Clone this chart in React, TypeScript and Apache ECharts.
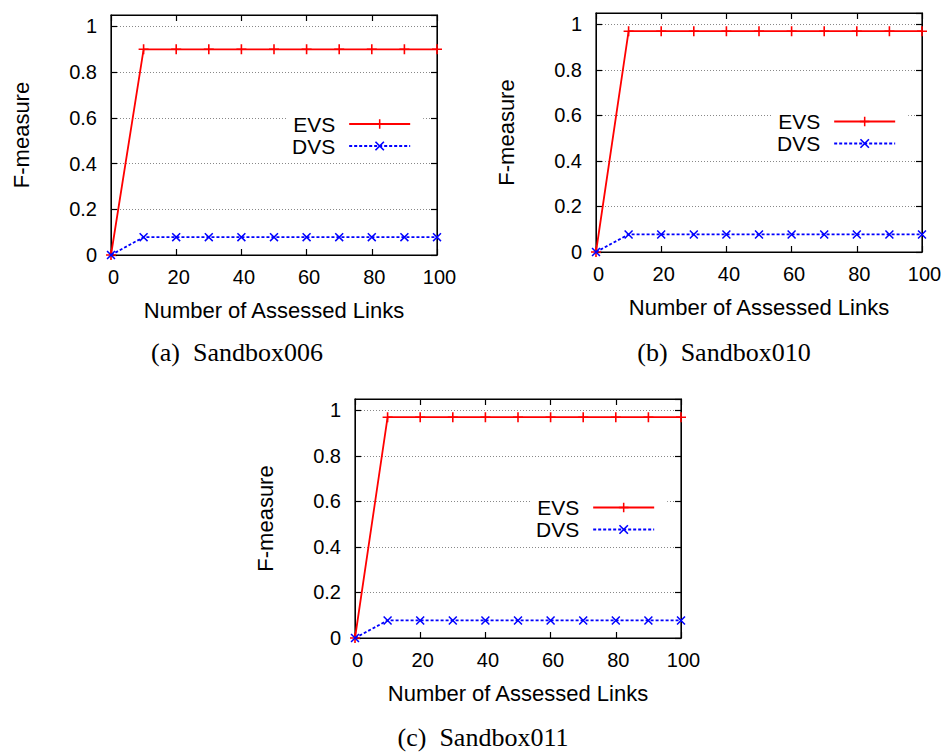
import React, { useEffect, useRef } from 'react';
import * as echarts from 'echarts';

// ---- data ----
const xValues = [0, 10, 20, 30, 40, 50, 60, 70, 80, 90, 100];
const evsSandbox006 = [0, 0.9, 0.9, 0.9, 0.9, 0.9, 0.9, 0.9, 0.9, 0.9, 0.9];
const dvsSandbox006 = [0, 0.078, 0.078, 0.078, 0.078, 0.078, 0.078, 0.078, 0.078, 0.078, 0.078];
const evsSandbox010 = [0, 0.97, 0.97, 0.97, 0.97, 0.97, 0.97, 0.97, 0.97, 0.97, 0.97];
const dvsSandbox010 = [0, 0.077, 0.077, 0.077, 0.077, 0.077, 0.077, 0.077, 0.077, 0.077, 0.077];
const evsSandbox011 = [0, 0.97, 0.97, 0.97, 0.97, 0.97, 0.97, 0.97, 0.97, 0.97, 0.97];
const dvsSandbox011 = [0, 0.077, 0.077, 0.077, 0.077, 0.077, 0.077, 0.077, 0.077, 0.077, 0.077];
const captions = ['(a)  Sandbox006', '(b)  Sandbox010', '(c)  Sandbox011'];
const seriesNames = ['EVS', 'DVS'];
const xAxisName = 'Number of Assessed Links';
const yAxisName = 'F-measure';

const panelData = [
  { evs: evsSandbox006, dvs: dvsSandbox006, caption: captions[0] },
  { evs: evsSandbox010, dvs: dvsSandbox010, caption: captions[1] },
  { evs: evsSandbox011, dvs: dvsSandbox011, caption: captions[2] },
];

// ---- layout ----
const layout = [
  { left: 111, top: 15, width: 326, height: 240, legendLeft: 288, legendTop: 109, capX: 237, capY: 352 },
  { left: 596, top: 13, width: 326, height: 239, legendLeft: 773, legendTop: 106.5, capX: 724, capY: 352 },
  { left: 355, top: 399, width: 326, height: 239, legendLeft: 532, legendTop: 492.5, capX: 483, capY: 737 },
];

const SANS = '"Liberation Sans", Arial, Helvetica, sans-serif';
const SERIF = '"Liberation Serif", "Times New Roman", serif';
const plusPath = 'path://M0,4.2H10V5.8H0Z M4.2,0H5.8V10H4.2Z';
const crossPath = 'path://M0,1.2L1.2,0L10,8.8L8.8,10Z M8.8,0L10,1.2L1.2,10L0,8.8Z';

export default function App() {
  const ref = useRef<HTMLDivElement>(null);
  useEffect(() => {
    if (!ref.current) return;
    const chart = echarts.init(ref.current, null, { renderer: 'svg' });

    const grid: any[] = [];
    const xAxis: any[] = [];
    const yAxis: any[] = [];
    const series: any[] = [];
    const legend: any[] = [];
    const graphic: any[] = [];

    const axisLine = () => ({ show: true, onZero: false, lineStyle: { color: '#000', width: 1 } });
    const axisTick = () => ({ show: true, inside: true, length: 6, lineStyle: { color: '#000', width: 1.2 } });
    const yFmt = (v: number) => {
      const k = v * 5;
      if (Math.abs(k - Math.round(k)) > 1e-6) return '';
      return String(Math.round(v * 10) / 10);
    };

    panelData.forEach((p, i) => {
      const L = layout[i];
      grid.push({
        left: L.left, top: L.top, width: L.width, height: L.height, containLabel: false,
        show: true, borderColor: '#000', borderWidth: 1.2, backgroundColor: 'transparent',
      });
      xAxis.push({
        type: 'value', gridIndex: i, min: 0, max: 100, interval: 20, position: 'bottom',
        axisLine: axisLine(), axisTick: axisTick(),
        axisLabel: { color: '#000', fontFamily: SANS, fontSize: 20, margin: 12, padding: [0, 0, 0, 5] },
        splitLine: { show: false },
        name: xAxisName, nameLocation: 'middle', nameGap: 44,
        nameTextStyle: { color: '#000', fontFamily: SANS, fontSize: 22 },
      });
      xAxis.push({
        type: 'value', gridIndex: i, min: 0, max: 100, interval: 20, position: 'top',
        axisLine: axisLine(), axisTick: axisTick(),
        axisLabel: { show: false }, splitLine: { show: false },
      });
      yAxis.push({
        type: 'value', gridIndex: i, min: 0, max: 1.05, interval: 0.2, position: 'left',
        axisLine: axisLine(), axisTick: axisTick(),
        axisLabel: { color: '#000', fontFamily: SANS, fontSize: 20, margin: 14, formatter: yFmt, showMaxLabel: false },
        splitLine: { show: true, lineStyle: { color: '#888', width: 1, type: [1, 2] } },
        name: yAxisName, nameLocation: 'middle', nameGap: 79,
        nameTextStyle: { color: '#000', fontFamily: SANS, fontSize: 22 },
      });
      yAxis.push({
        type: 'value', gridIndex: i, min: 0, max: 1.05, interval: 0.2, position: 'right',
        axisLine: axisLine(), axisTick: axisTick(),
        axisLabel: { show: false }, splitLine: { show: false },
      });
      series.push({
        name: seriesNames[0], type: 'line', xAxisIndex: 2 * i, yAxisIndex: 2 * i,
        data: xValues.map((x, j) => [x, p.evs[j]]),
        symbol: plusPath, symbolSize: 10, showAllSymbol: true, clip: false,
        lineStyle: { color: '#ff0000', width: 1.8, type: 'solid' },
        itemStyle: { color: '#ff0000' }, z: 3,
      });
      series.push({
        name: seriesNames[1], type: 'line', xAxisIndex: 2 * i, yAxisIndex: 2 * i,
        data: xValues.map((x, j) => [x, p.dvs[j]]),
        symbol: crossPath, symbolSize: 9, showAllSymbol: true, clip: false,
        lineStyle: { color: '#0000ff', width: 1.8, type: [3, 2] },
        itemStyle: { color: '#0000ff' }, z: 4,
      });
      legend.push({
        data: seriesNames, orient: 'vertical', align: 'right',
        left: L.legendLeft, top: L.legendTop,
        itemWidth: 61, itemHeight: 12, itemGap: 0,
        padding: [4, 12, 4, 4], backgroundColor: '#fff',
        selectedMode: false,
        textStyle: { color: '#000', fontFamily: SANS, fontSize: 21, lineHeight: 22, padding: [0, 9, 0, 0] },
      });
      graphic.push({
        type: 'text', x: L.capX, y: L.capY,
        style: {
          text: p.caption, fill: '#000', font: `26px ${SERIF}`,
          textAlign: 'center', textVerticalAlign: 'middle',
        },
      });
    });

    chart.setOption({
      animation: false,
      backgroundColor: '#fff',
      grid, xAxis, yAxis, series, legend, graphic,
    });
    return () => chart.dispose();
  }, []);
  return <div ref={ref} style={{ position: 'absolute', left: 0, top: 0, width: 947, height: 754 }} />;
}
